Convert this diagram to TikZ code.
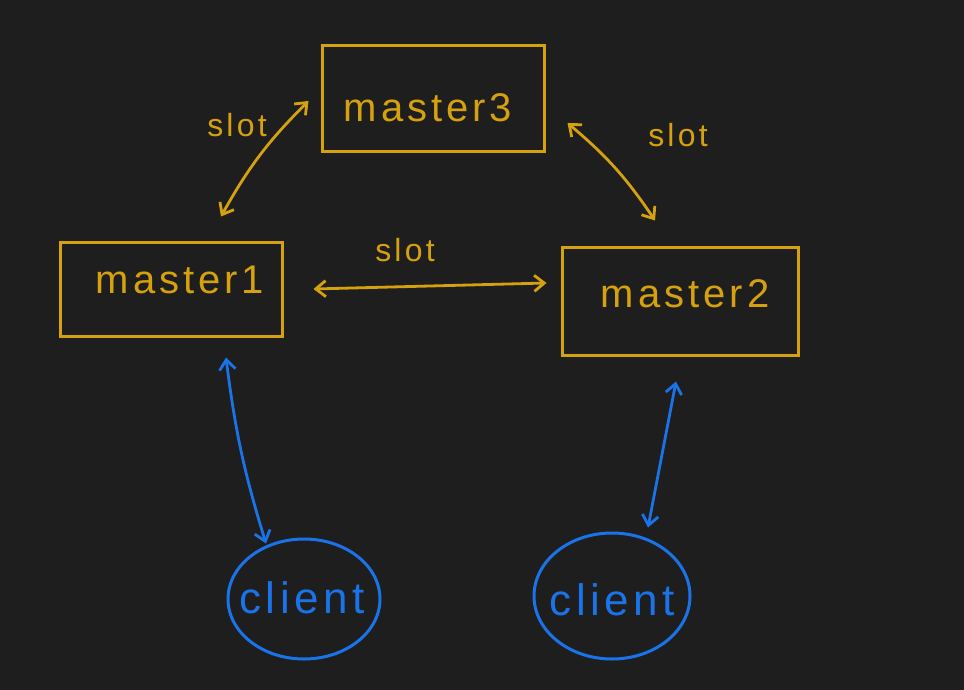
\documentclass[tikz,border=0pt]{standalone}
\usepackage{fontspec}
\setmainfont{Liberation Sans}
\newfontfamily\hand[LetterSpace=10]{Liberation Sans}
\usetikzlibrary{arrows.meta,shapes.geometric}
\definecolor{bg}{HTML}{1E1E1E}
\definecolor{gold}{HTML}{D6A10E}
\definecolor{cblue}{HTML}{1A73E8}
\tikzset{
  box/.style={draw=gold, line width=3pt, rectangle, inner sep=0pt},
  blob/.style={draw=cblue, line width=3pt, ellipse, inner sep=0pt},
  gtext/.style={text=gold, font=\hand\fontsize{40}{44}\selectfont, inner sep=0pt},
  btext/.style={text=cblue, font=\hand\fontsize{44}{48}\selectfont, inner sep=0pt},
  slottext/.style={text=gold, font=\hand\fontsize{32}{36}\selectfont, inner sep=0pt},
  garr/.style={draw=gold, line width=2.8pt, {Straight Barb[length=10pt,width=16pt]}-{Straight Barb[length=10pt,width=16pt]}},
  barr/.style={draw=cblue, line width=2.8pt, {Straight Barb[length=10pt,width=16pt]}-{Straight Barb[length=10pt,width=16pt]}}
}
\begin{document}
\begin{tikzpicture}[x=1pt,y=-1pt]
\fill[bg] (0,0) rectangle (964,690);
\useasboundingbox (0,0) rectangle (964,690);
% boxes
\node[box, minimum width=222pt, minimum height=106pt] (m3) at (433,99) {};
\node[box, minimum width=222pt, minimum height=94pt] (m1) at (171,289) {};
\node[box, minimum width=236pt, minimum height=108pt] (m2) at (680,301) {};
\node[gtext] (t3) at (428,108) {master3};
\node[gtext] (t1) at (180,280) {master1};
\node[gtext] (t2) at (685,294) {master2};
% clients
\node[blob, minimum width=152pt, minimum height=120pt] (c1) at (304,599) {};
\node[blob, minimum width=156pt, minimum height=126pt] (c2) at (612,596) {};
\node[btext] (tc1) at (302,598) {client};
\node[btext] (tc2) at (612,600) {client};
% slot labels
\node[slottext] (s1) at (237,125) {slot};
\node[slottext] (s2) at (678,135) {slot};
\node[slottext] (s3) at (405,250) {slot};
% connectors
\draw[garr] ([shift={(-12,2)}]m3.west) to[bend right=8] ([shift={(50,-24)}]m1.north);
\draw[garr] ([shift={(22,24)}]m3.east) to[bend left=8] ([shift={(-25,-25)}]m2.north);
\draw[garr] ([shift={(30,0)}]m1.east) -- ([shift={(-14,-18)}]m2.west);
\draw[barr] ([shift={(55,20)}]m1.south) to[bend right=5] ([shift={(-38,6)}]c1.north);
\draw[barr] ([shift={(-4,25)}]m2.south) -- ([shift={(36,-4)}]c2.north);
\end{tikzpicture}
\end{document}
